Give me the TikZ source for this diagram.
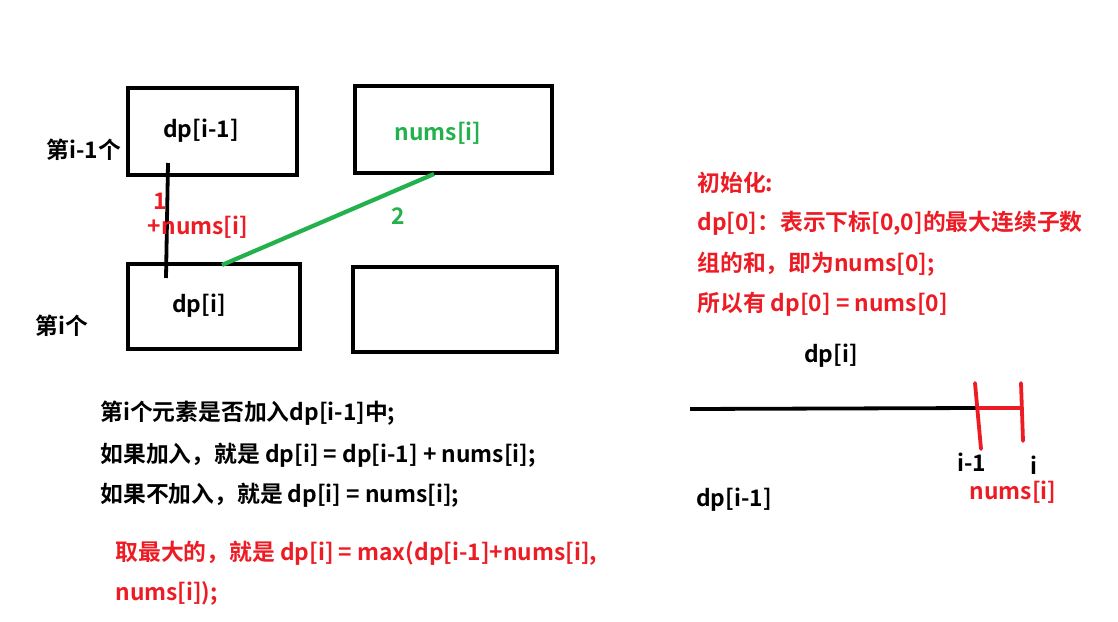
\documentclass[tikz,border=0pt]{standalone}
\usepackage{fontspec}
\setmainfont{Noto Sans CJK SC}[BoldFont={Noto Sans CJK SC Bold}]
\definecolor{pred}{RGB}{237,28,36}
\definecolor{pgreen}{RGB}{34,177,76}
\tikzset{
  cell/.style={draw,line width=1.9pt},
  txt/.style={font=\bfseries\fontsize{11.4}{13}\selectfont,inner sep=0pt},
  tickline/.style={line width=1.9pt,line cap=round}
}
\begin{document}
\begin{tikzpicture}[x=0.5pt,y=-0.5pt]
\useasboundingbox (0,0) rectangle (1118,621);
\draw[cell] (128,88) rectangle (297,175);
\draw[cell] (355,86) rectangle (552,173);
\draw[cell] (128,264) rectangle (300,349);
\draw[cell] (353,267) rectangle (557,352);
\node[txt] (prev) at (201,131) {dp[i-1]};
\node[txt,text=pgreen] (num) at (438,133) {nums[i]};
\node[txt] (cur) at (199,306) {dp[i]};
\node[txt] (rowa) at (84,150) {第i-1个};
\node[txt] (rowb) at (62,326) {第i个};
\coordinate (pa) at (168,163);
\coordinate (pb) at (166,278);
\coordinate (na) at (434,174);
\coordinate (nb) at (222,265);
\draw[line width=1.9pt] (pa) -- (pb);
\draw[pgreen,line width=2.1pt] (na) -- (nb);
\node[txt,text=pred] (one) at (160,201) {1};
\node[txt,text=pred] (add) at (198,227) {+nums[i]};
\node[txt,text=pgreen] (two) at (398,216) {2};
% init text
\node[txt,text=pred,anchor=west] (ia) at (697,183) {初始化:};
\node[txt,text=pred,anchor=west] (ib) at (697,223) {dp[0]：表示下标[0,0]的最大连续子数};
\node[txt,text=pred,anchor=west] (ic) at (697,264) {组的和，即为nums[0];};
\node[txt,text=pred,anchor=west] (id) at (697,304) {所以有 dp[0] = nums[0]};
% number line
\node[txt] (seg) at (831,356) {dp[i]};
\coordinate (la) at (690,409);
\coordinate (lb) at (977,408);
\draw[line width=1.9pt] (la) -- (lb);
\coordinate (ta) at (975,383);
\coordinate (tb) at (981,449);
\coordinate (tc) at (1021,383);
\coordinate (td) at (1023,441);
\draw[pred,tickline] (ta) -- (tb);
\draw[pred,tickline] (tc) -- (td);
\draw[pred,line width=1.9pt] (lb) -- (1022,408);
\node[txt] (lo) at (972,462) {i-1};
\node[txt] (hi) at (1034,465) {i};
\node[txt,text=pred] (gap) at (1013,492) {nums[i]};
\node[txt] (whole) at (734,500) {dp[i-1]};
% choice text
\node[txt,anchor=west] (ca) at (100,413) {第i个元素是否加入dp[i-1]中;};
\node[txt,anchor=west] (cb) at (100,455) {如果加入，就是 dp[i] = dp[i-1] + nums[i];};
\node[txt,anchor=west] (cc) at (100,495) {如果不加入，就是 dp[i] = nums[i];};
\node[txt,text=pred,anchor=west] (cd) at (115,553) {取最大的，就是 dp[i] = max(dp[i-1]+nums[i],};
\node[txt,text=pred,anchor=west] (ce) at (115,593) {nums[i]);};
\end{tikzpicture}
\end{document}
